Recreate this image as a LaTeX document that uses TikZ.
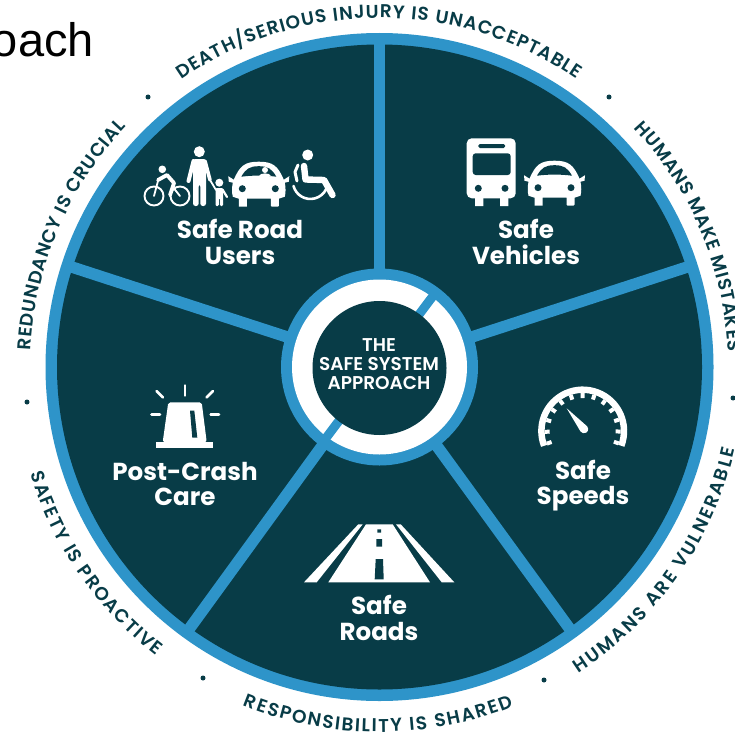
\documentclass[tikz,border=0pt]{standalone}
\usepackage{fontspec}
\usetikzlibrary{decorations.text}
\setmainfont{Liberation Sans}
\newfontfamily\labelfont{Poppins}[BoldFont=* Bold]
\newfontfamily\ringfont{Poppins}[UprightFont=* SemiBold]
\definecolor{wheeldark}{HTML}{083C47}
\definecolor{wheelblue}{HTML}{2E94C9}
\tikzset{
  sectorlabel/.style={text=white,font=\labelfont\bfseries\fontsize{24.6}{25.5}\selectfont,align=center,inner sep=0pt},
  hublabel/.style={text=white,font=\ringfont\fontsize{18.5}{19}\selectfont,align=center,inner sep=0pt},
  spoke/.style={draw=wheelblue,line width=11.5pt},
  ray/.style={draw=white,line width=2.8pt,line cap=round},
  ink/.style={fill=white,draw=none},
  limb/.style={draw=white,line cap=round,line join=round},
  hole/.style={fill=wheeldark,draw=none},
  ringdot/.style={circle,fill=wheeldark,minimum size=5pt,inner sep=0pt},
  ringtext/.style={decorate,decoration={text along path,text align={fit to path},
     text={|\ringfont\color{wheeldark}\fontsize{18.5}{18.5}\selectfont|#1}}},
}
\newcommand{\caricon}[2]{%
  \begin{scope}[shift={(#1,#2)}]
    \fill[ink] (-25,18) .. controls (-19,4) and (-14,0) .. (0,0) .. controls (14,0) and (19,4) .. (25,18)
       -- (30.5,14.5) -- (30,20) -- (26,21) .. controls (27,26) and (27,31) .. (26,35)
       -- (20,37) -- (20,43) [rounded corners=1pt] -- (20,45) -- (12,45) [sharp corners] -- (12,37) -- (-12,37) -- (-12,45) -- (-20,45) -- (-20,37) -- (-26,35)
       .. controls (-27,31) and (-27,26) .. (-26,21) -- (-30,20) -- (-30.5,14.5) -- cycle;
    \fill[hole] (-17.5,15) .. controls (-13,7) and (-9,4.5) .. (0,4.5) .. controls (9,4.5) and (13,7) .. (17.5,15)
       .. controls (6,13.5) and (-6,13.5) .. (-17.5,15) -- cycle;
    \fill[hole] (-16.5,27) circle[radius=3.5pt] (16.5,27) circle[radius=3.5pt];
  \end{scope}}
\begin{document}
\begin{tikzpicture}[x=1pt,y=-1pt]
\useasboundingbox (0,0) rectangle (735,733);
\clip (0,0) rectangle (735,733);
\fill[white] (0,0) rectangle (735,733);
\node[anchor=base east,inner sep=0pt,font=\fontsize{47}{47}\selectfont] (title) at (94,57) {oach};

\begin{scope}[shift={(379.5,367)}]
  % wheel
  \fill[wheelblue] (0,0) circle[radius=334pt];
  \fill[wheeldark] (0,0) circle[radius=322.5pt];
  \foreach \a in {90,18,-54,-126,162}
    \draw[spoke] (\a:90pt) -- (\a:328pt);
  % hub
  \fill[wheelblue] (0,0) circle[radius=98.5pt];
  \fill[white] (0,0) circle[radius=87.5pt];
  \draw[draw=wheelblue,line width=9pt] (53:65pt) -- (53:90pt);
  \draw[draw=wheelblue,line width=9pt] (233:65pt) -- (233:90pt);
  \fill[wheeldark] (0,1) circle[radius=67pt];
  % ring captions
  \path[ringtext={DEATH/SERIOUS INJURY IS UNACCEPTABLE}] (124.6:349pt) arc[start angle=124.6,end angle=55.6,radius=349pt];
  \path[ringtext={HUMANS MAKE MISTAKES}] (43.2:349pt) arc[start angle=43.2,end angle=2.5,radius=349pt];
  \path[ringtext={HUMANS ARE VULNERABLE}] (-57:365pt) arc[start angle=-57,end angle=-13,radius=365pt];
  \path[ringtext={RESPONSIBILITY IS SHARED}] (248:365pt) arc[start angle=248,end angle=291.5,radius=365pt];
  \path[ringtext={SAFETY IS PROACTIVE}] (197:365pt) arc[start angle=197,end angle=232.3,radius=365pt];
  \path[ringtext={REDUNDANCY IS CRUCIAL}] (177.3:349pt) arc[start angle=177.3,end angle=136.5,radius=349pt];
\end{scope}

\node[ringdot] (d1) at (148,97) {};
\node[ringdot] (d2) at (609,97) {};
\node[ringdot] (d3) at (733,398) {};
\node[ringdot] (d4) at (544,680) {};
\node[ringdot] (d5) at (203,678) {};
\node[ringdot] (d6) at (27,402) {};

% labels
\node[hublabel] (hub) at (379,364) {THE\\SAFE SYSTEM\\APPROACH};
\node[sectorlabel] (users) at (240,242) {Safe Road\\Users};
\node[sectorlabel] (vehicles) at (526,242) {Safe\\Vehicles};
\node[sectorlabel] (speeds) at (583,485.5) {Safe\\Speeds};
\node[sectorlabel] (roads) at (379,618) {Safe\\Roads};
\node[sectorlabel] (care) at (185,484) {Post-Crash\\Care};

% cyclist
\draw[white,line width=1.9pt] (154,196) circle[radius=9.5pt] (180,196) circle[radius=9.5pt];
\fill[ink] (162.3,169.3) circle[radius=3.8pt];
\draw[limb,line width=3.8pt] (158,180) -- (167,175) -- (174,183) -- (170,195);
\draw[limb,line width=1.8pt] (158,181) -- (154,196) (172,186) -- (180,196);
% adult
\fill[ink] (199.3,151.7) circle[radius=5.5pt];
\fill[ink,rounded corners=2.5pt] (193,206) -- (193,159) -- (206,159) -- (206,206) -- (200.3,206) -- (200.3,184) -- (198.7,184) -- (198.7,206) -- cycle;
\draw[limb,line width=4pt] (193.5,161) -- (188.5,181);
\draw[limb,line width=3.6pt] (205,161) -- (210,180);
\draw[limb,line width=1.8pt] (210,180) -- (216,190);
% child
\fill[ink] (219.3,182.7) circle[radius=4pt];
\fill[ink,rounded corners=1.2pt] (215.5,206) -- (215.5,188) -- (223,188) -- (223,206) -- (219.8,206) -- (219.8,198) -- (218.8,198) -- (218.8,206) -- cycle;
\draw[limb,line width=2.2pt] (222.5,189.5) -- (227,197);
% car with driver
\caricon{258.8}{161.7}
\fill[ink] (265,170) circle[radius=3pt];
\fill[ink] (259,176) .. controls (260,172.5) and (270,172.5) .. (271,176) -- cycle;
% wheelchair user
\fill[ink] (307.7,155) circle[radius=5.5pt];
\draw[limb,line width=6.4pt] (304,166) -- (305.5,179.5) -- (324,180) -- (332.5,195);
\draw[limb,line width=3pt] (298,165) -- (295,172) -- (297,181);
\draw[limb,line width=2.6pt] (293.5,186) arc[start angle=195,end angle=335,radius=17.5pt];

% bus
\fill[ink,rounded corners=5pt] (466.7,138.3) rectangle (515.7,198.3);
\fill[ink] (475,195) rectangle (483.3,206) (500,195) rectangle (508.3,206);
\fill[hole,rounded corners=3pt] (472.7,153.3) rectangle (510.7,175);
\fill[hole,rounded corners=1.5pt] (478.3,144) rectangle (505,148);
\fill[hole] (478.3,188.3) circle[radius=3.5pt] (505,188.3) circle[radius=3.5pt];
\caricon{554.5}{160.7}

% gauge
\draw[white,line width=6.5pt] (582.7,431) ++(-21:41.3pt) arc[start angle=-21,end angle=201,radius=41.3pt];
\foreach \k in {0,...,12}
  \draw[white,line width=4pt] (582.7,431) ++({-19+\k*18.2}:33pt) -- ++({-19+\k*18.2}:5pt);
\fill[ink] (566.7,408.3) -- (580.4,431.3) arc[start angle=212,end angle=400,radius=4.2pt] -- cycle;

% road
\fill[ink] (366,524.3) -- (392.7,524.3) -- (430,582.3) -- (328.3,582.3) -- cycle;
\fill[ink] (358.3,524.3) -- (362.7,524.3) -- (316.7,582.3) -- (304,582.3) -- cycle;
\fill[ink] (396,524.3) -- (400.7,524.3) -- (454.3,582.3) -- (441.7,582.3) -- cycle;
\fill[hole] (377.3,529.3) rectangle (381,532.7) (376.3,539) rectangle (382,546.7);
\fill[hole] (375.7,559) -- (383,559) -- (383.7,579.3) -- (374.7,579.3) -- cycle;

% siren
\fill[ink] (156,441.7) rectangle (213.3,447.7);
\fill[ink,rounded corners=2pt] (162.7,442) -- (168.3,402.3) -- (201.7,402.3) -- (206.7,442) -- cycle;
\fill[hole] (190,410.7) -- (194.3,410.7) -- (197.3,437.7) -- (192.3,437.7) -- cycle;
\draw[ray] (185,385.5) -- (185,395.5);
\draw[ray] (156.5,391) -- (163,397.5);
\draw[ray] (213,391) -- (206.5,397.5);
\draw[ray] (151.5,414.3) -- (160,414.3);
\draw[ray] (210.7,414.3) -- (219,414.3);
\end{tikzpicture}
\end{document}
